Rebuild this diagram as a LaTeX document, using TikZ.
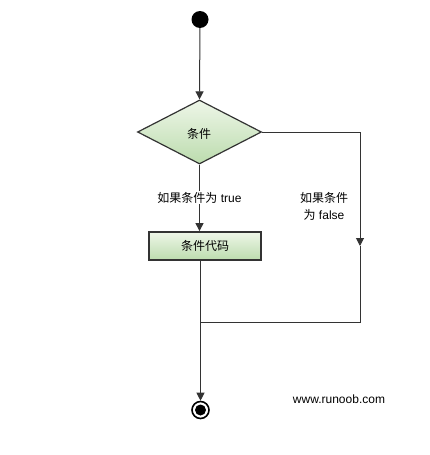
\documentclass[tikz,border=0pt]{standalone}
\usepackage{fontspec}
\setmainfont{Liberation Sans}
\newfontfamily\cjk{Noto Sans CJK SC}
\usetikzlibrary{shapes.geometric,arrows.meta}
\definecolor{linec}{HTML}{333333}
\definecolor{gtop}{HTML}{EEF6E8}
\definecolor{gbot}{HTML}{BCDCAE}
\tikzset{
  flow/.style={draw=linec, line width=1pt, -{Triangle[length=8pt,width=8pt]}},
  plain/.style={draw=linec, line width=1pt},
  lbl/.style={font=\fontsize{12}{14}\selectfont, inner sep=1pt, align=center},
  decision/.style={diamond, draw=linec, line width=1.2pt, top color=gtop, bottom color=gbot,
    minimum width=124pt, minimum height=64pt, inner sep=0pt, font=\fontsize{12}{14}\selectfont\cjk},
  action/.style={rectangle, draw=linec, line width=1.8pt, top color=gtop, bottom color=gbot,
    minimum width=112pt, minimum height=28pt, inner sep=0pt, font=\fontsize{12}{14}\selectfont\cjk}
}
\begin{document}
\begin{tikzpicture}[x=1pt,y=-1pt]
\useasboundingbox[fill=white] (0,0) rectangle (430,455);
\node[circle, fill=black, minimum size=17pt, inner sep=0pt] (start) at (200,19.5) {};
\node[decision] (cond) at (199.5,132) {};
\node[font=\fontsize{12}{14}\selectfont\cjk, inner sep=0pt] (condtxt) at (199,134) {条件};
\node[action] (code) at (205,246) {条件代码};
\node[circle, draw=black, line width=1.6pt, minimum size=17pt, inner sep=0pt] (endo) at (200.5,410) {};
\node[circle, fill=black, minimum size=11pt, inner sep=0pt] (endi) at (200.5,410) {};
\coordinate (rtop) at (360,132);
\coordinate (rarr) at (360,246);
\coordinate (rbot) at (360,322);
\coordinate (join) at (200,322);
\draw[flow] (start) -- (cond.north);
\draw[flow] (cond.south) -- node[lbl, fill=white, pos=0.5] (ltrue) {{\cjk 如果条件为} true} (code.north -| cond.south);
\draw[flow] (code.south -| endo.north) -- (endo.north);
\draw[flow] (cond.east) -- (rtop) -- (rarr);
\draw[plain] (rarr) -- (rbot) -- (join);
\node[lbl] (lfalse) at (324,206.5) {{\cjk 如果条件}\\[3pt]{\cjk 为} false};
\node[lbl] (site) at (339,399.5) {www.runoob.com};
\end{tikzpicture}
\end{document}
